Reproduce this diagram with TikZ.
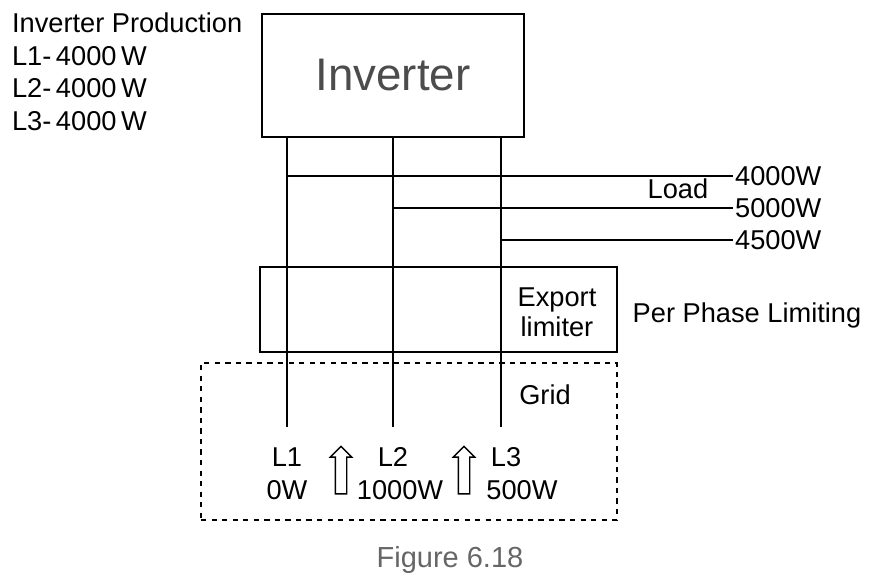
\documentclass[tikz,border=0pt]{standalone}
\usepackage{fontspec}
\setmainfont{Liberation Sans}
\usetikzlibrary{positioning, shapes.arrows, calc}

\begin{document}
\begin{tikzpicture}[
 x=0.02cm, y=-0.02cm,
 box/.style={draw, thick, rectangle, inner sep=0pt},
 line/.style={thick},
 lbl/.style={font=\fontsize{15.5}{17}\selectfont, inner sep=1pt},
 upflow/.style={draw, thick, single arrow, rotate=90, minimum height=0.95cm, inner sep=0.1cm, single arrow head extend=0.1cm, single arrow tip angle=90},
 ]
  \useasboundingbox (0,0) rectangle (876,584);

  % Inverter block
  \node[box, minimum width=5.24cm, minimum height=2.46cm, font=\fontsize{26}{30}\selectfont, text=black!70] (inv) at (393,75.5) {Inverter};
  \node[lbl, anchor=north west, align=left, font=\fontsize{15.5}{18.5}\selectfont] (prod) at (10,11) {Inverter Production\\L1-\,4000\,W\\L2-\,4000\,W\\L3-\,4000\,W};

  % Export limiter and grid
  \node[box, minimum width=7.14cm, minimum height=1.7cm] (lim) at (438.5,309.5) {};
  \node[draw, thick, dashed, minimum width=8.32cm, minimum height=3.14cm] (grid) at (409,441.5) {};
  \node[lbl, align=center] (limtxt) at (557,312) {Export\\limiter};
  \node[lbl] (ppl) at (747,315) {Per Phase Limiting};
  \node[lbl] (gridtxt) at (545,395) {Grid};

  % Phase lines
  \coordinate (p1) at (287,427);
  \coordinate (p2) at (393,427);
  \coordinate (p3) at (501,427);
  \draw[line] (inv.south -| p1) -- (p1);
  \draw[line] (inv.south -| p2) -- (p2);
  \draw[line] (inv.south -| p3) -- (p3);

  % Loads
  \node[lbl, anchor=west] (w1) at (733,176) {4000W};
  \node[lbl, anchor=west] (w2) at (733,208) {5000W};
  \node[lbl, anchor=west] (w3) at (733,240) {4500W};
  \node[lbl] (load) at (678,189) {Load};
  \draw[line] (p1 |- w1) -- (w1.west);
  \draw[line] (p2 |- w2) -- (w2.west);
  \draw[line] (p3 |- w3) -- (w3.west);

  % Phase readings
  \node[lbl] (l1) at (287,457) {L1};
  \node[lbl] (l2) at (393,457) {L2};
  \node[lbl] (l3) at (506,457) {L3};
  \node[lbl] (r1) at (287,490) {0W};
  \node[lbl] (r2) at (400,490) {1000W};
  \node[lbl] (r3) at (522,490) {500W};
  \node[upflow] (up1) at (341,473) {};
  \node[upflow] (up2) at (464,473) {};

  \node[font=\fontsize{16.5}{19}\selectfont, text=black!60] (cap) at (450,560) {Figure 6.18};
\end{tikzpicture}
\end{document}
